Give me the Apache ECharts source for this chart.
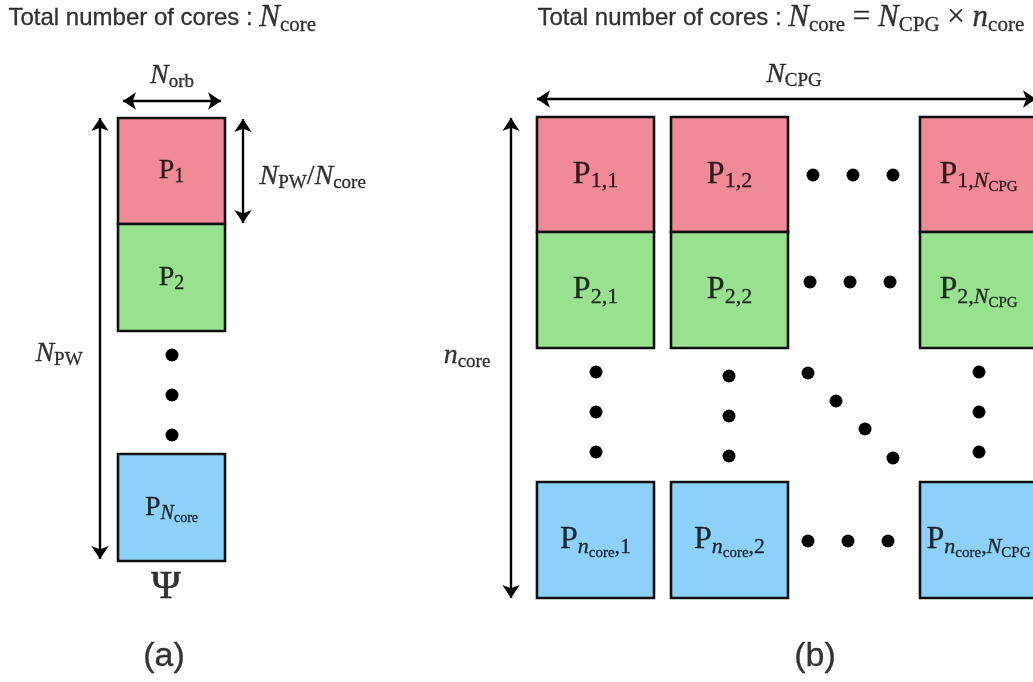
<!DOCTYPE html>
<html>
<head>
<meta charset="utf-8">
<script src="https://cdn.jsdelivr.net/npm/echarts@6/dist/echarts.min.js"></script>
<style>
html,body{margin:0;padding:0;background:#fff;}
#chart{width:1033px;height:682px;}
</style>
</head>
<body>
<div id="chart"></div>
<script>
// ---------------- data (diagram units on hidden value axes) ----------------
// Panel (a): one column of blocks
const aColumn = [118, 225];
const aRows = [[118, 224], [224, 331], [454, 561]];
const aLabels = ['{R|P}{s|1}', '{R|P}{s|2}', '{R|P}{si|N}{ss|core}'];
const aKinds = [0, 1, 2];

// Panel (b): grid of blocks
const bColumns = [[537, 654], [671, 788], [920, 1037]];
const bRows = [[117, 232], [232, 348], [482, 598]];
const bLabels = [
  ['{R|P}{s|1,1}', '{R|P}{s|1,2}', '{R|P}{s|1,}{si|N}{ss|CPG}'],
  ['{R|P}{s|2,1}', '{R|P}{s|2,2}', '{R|P}{s|2,}{si|N}{ss|CPG}'],
  ['{R|P}{si|n}{ss|core}{s|,1}', '{R|P}{si|n}{ss|core}{s|,2}', '{R|P}{si|n}{ss|core}{s|,}{si|N}{ss|CPG}']
];
const bKinds = [0, 1, 2];

// Ellipsis dots
const dotsA = [[172, 355], [172, 395], [172, 435]];
const dotsB = [
  [813, 175], [853, 175], [893, 175],
  [810, 282], [850, 282], [890, 282],
  [808, 541], [848, 541], [888, 541],
  [596, 372], [596, 412], [596, 452],
  [729, 376], [729, 416], [729, 456],
  [808, 373], [836, 401], [865, 429], [893, 458],
  [979, 372], [979, 412], [979, 452]
];

// Double-headed dimension arrows
const arrows = [
  [[123, 101], [221, 101]],
  [[243, 119], [243, 223]],
  [[100, 118], [100, 559]],
  [[537, 99], [1036, 99]],
  [[511, 118], [511, 598]]
];

// Texts
const titles = [
  '{t|Total number of cores : }{I|N}{s|core}',
  '{t|Total number of cores : }{I|N}{s|core}{R| = }{I|N}{s|CPG}{R| × }{I|n}{s|core}'
];
const titleAnchors = [[8, 18], [537, 18]];
const dimLabels = [
  '{I|N}{s|orb}',
  '{I|N}{s|PW}{R|/}{I|N}{s|core}',
  '{I|N}{s|PW}',
  '{I|N}{s|CPG}',
  '{I|n}{s|core}'
];
const dimAnchors = [[172, 76], [259, 177], [59, 354], [794, 75], [467, 356]];
const dimAlign = ['center', 'left', 'center', 'center', 'center'];
const psiText = 'Ψ';
const psiAnchor = [166, 587];
const panelTags = ['(a)', '(b)'];
const panelAnchors = [[164, 657], [815, 657]];

// ---------------- styles ----------------
const SERIF = '"Liberation Serif", "Times New Roman", serif';
const SANS = '"Liberation Sans", Arial, sans-serif';
const fills = ['#EF8A96', '#97E18F', '#8DD1FA'];
const INK = '#000000';

function mathRich(M, S, SS, T) {
  const L = Math.round(M * 2.2);
  const dS = 0.43 * M - 0.3 * S;
  const dSS = 0.54 * M - 0.3 * SS;
  const hS = Math.max(2, L - 2 * dS);
  const hSS = Math.max(2, L - 2 * dSS);
  const st = (size, fam, style, lh, va) => ({
    fontFamily: fam, fontSize: size, fontStyle: style, fontWeight: 'normal',
    lineHeight: lh, height: lh, verticalAlign: va, color: INK,
    textBorderColor: INK, textBorderWidth: 0.3
  });
  return {
    R: st(M, SERIF, 'normal', L, 'middle'),
    I: st(M, SERIF, 'italic', L, 'middle'),
    s: st(S, SERIF, 'normal', hS, 'bottom'),
    si: st(S, SERIF, 'italic', hS, 'bottom'),
    ss: st(SS, SERIF, 'normal', hSS, 'bottom'),
    t: st(T, SANS, 'normal', L, 'middle')
  };
}
const richTitle = mathRich(31, 21, 15, 24);
const richDim = mathRich(28, 19, 14, 24);
const richA = mathRich(28, 20, 14, 24);
const richB = mathRich(32, 22, 15, 24);

// ---------------- build series data ----------------
const boxData = [];
aRows.forEach((r, i) => {
  boxData.push({ value: [aColumn[0], r[0], aColumn[1], r[1], aKinds[i]], label: aLabels[i], rich: 'A' });
});
bRows.forEach((r, i) => {
  bColumns.forEach((c, j) => {
    boxData.push({ value: [c[0], r[0], c[1], r[1], bKinds[i]], label: bLabels[i][j], rich: 'B' });
  });
});

const boxLabelData = boxData.map(b => ({
  value: [(b.value[0] + b.value[2]) / 2, (b.value[1] + b.value[3]) / 2],
  label: { formatter: b.label, rich: b.rich === 'A' ? richA : richB }
}));

const textData = [];
titles.forEach((t, i) => textData.push({
  value: titleAnchors[i],
  label: { formatter: t, rich: richTitle, position: 'right', distance: 0 }
}));
dimLabels.forEach((t, i) => textData.push({
  value: dimAnchors[i],
  label: { formatter: t, rich: richDim, position: dimAlign[i] === 'left' ? 'right' : 'inside', distance: 0 }
}));
textData.push({
  value: psiAnchor,
  label: { formatter: psiText, fontFamily: SERIF, fontSize: 40, color: INK,
           textBorderColor: INK, textBorderWidth: 0.6, position: 'inside' }
});
panelTags.forEach((t, i) => textData.push({
  value: panelAnchors[i],
  label: { formatter: t, fontFamily: SANS, fontSize: 34, color: INK,
           textBorderColor: INK, textBorderWidth: 0.3, position: 'inside' }
}));

// ---------------- chart ----------------
const chart = echarts.init(document.getElementById('chart'), null, { renderer: 'canvas' });
chart.setOption({
  backgroundColor: '#ffffff',
  animation: false,
  grid: { left: 0, right: 0, top: 0, bottom: 0 },
  xAxis: { type: 'value', min: 0, max: 1033, show: false },
  yAxis: { type: 'value', min: 0, max: 682, inverse: true, show: false },
  series: [
    {
      type: 'custom',
      silent: true,
      clip: false,
      data: boxData.map(b => b.value),
      renderItem: function (params, api) {
        const p0 = api.coord([api.value(0), api.value(1)]);
        const p1 = api.coord([api.value(2), api.value(3)]);
        return {
          type: 'rect',
          shape: { x: p0[0], y: p0[1], width: p1[0] - p0[0], height: p1[1] - p0[1] },
          style: { fill: fills[api.value(4)], stroke: '#111', lineWidth: 2.6 }
        };
      },
      z: 2
    },
    {
      type: 'lines',
      coordinateSystem: 'cartesian2d',
      silent: true,
      symbol: ['arrow', 'arrow'],
      symbolSize: 13,
      lineStyle: { color: '#000', width: 2.4, opacity: 1, curveness: 0 },
      data: arrows.map(a => ({ coords: a })),
      z: 3
    },
    {
      type: 'scatter',
      silent: true,
      symbol: 'circle',
      symbolSize: 13,
      itemStyle: { color: '#000', opacity: 1 },
      data: dotsA.concat(dotsB),
      z: 3
    },
    {
      type: 'scatter',
      silent: true,
      symbolSize: 1,
      itemStyle: { color: 'rgba(0,0,0,0)' },
      label: { show: true, position: 'inside', color: INK },
      data: boxLabelData,
      z: 4
    },
    {
      type: 'scatter',
      silent: true,
      symbolSize: 1,
      itemStyle: { color: 'rgba(0,0,0,0)' },
      label: { show: true, color: INK },
      data: textData,
      z: 4
    }
  ]
});
</script>
</body>
</html>
